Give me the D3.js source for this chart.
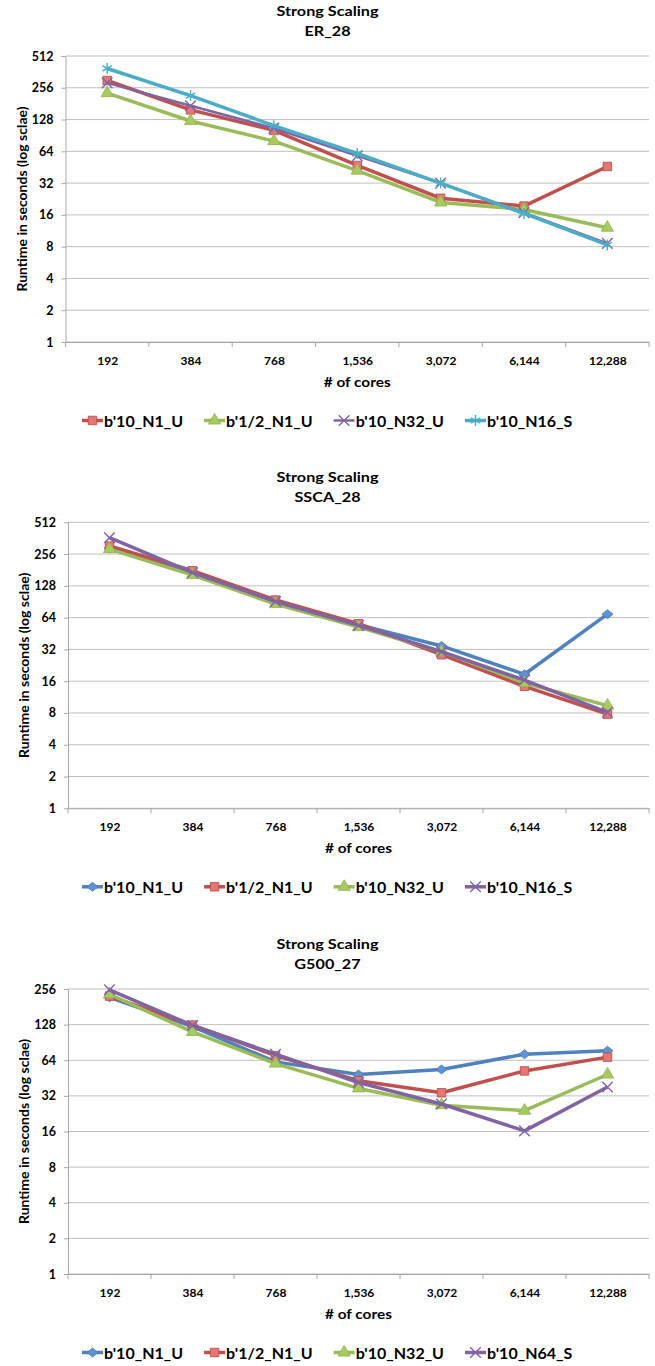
<!DOCTYPE html>
<html>
<head>
<meta charset="utf-8">
<script src="https://cdn.jsdelivr.net/npm/d3@7"></script>
<style>
  body { margin: 0; background: #fff; }
  text { font-family: Lato, "Open Sans", sans-serif; fill: #000; }
</style>
</head>
<body>
<svg id="chart" width="655" height="1366"></svg>
<script>
// categories shared by all three panels
const cores = ["192", "384", "768", "1,536", "3,072", "6,144", "12,288"];
const ticks512 = [1, 2, 4, 8, 16, 32, 64, 128, 256, 512];
const ticks256 = [1, 2, 4, 8, 16, 32, 64, 128, 256];

// ER_28 runtimes (seconds)
const erNames = ["b'10_N1_U", "b'1/2_N1_U", "b'10_N32_U", "b'10_N16_S"];
const er_N1_U    = [300, 158, 101, 47, 23, 19.4, 46];
const er_half_N1 = [228, 124, 80, 42, 21, 18, 12.1];
const er_N32_U   = [285, 173, 106, 58, 32, 16.8, 8.6];
const er_N16_S   = [390, 216, 112, 61, 32, 16.5, 8.3];

// SSCA_28 runtimes
const sscaNames = ["b'10_N1_U", "b'1/2_N1_U", "b'10_N32_U", "b'10_N16_S"];
const ssca_N1_U    = [290, 175, 91, 55, 34.5, 18.6, 69];
const ssca_half_N1 = [305, 178, 94, 56, 28.5, 14.3, 7.8];
const ssca_N32_U   = [285, 162, 86, 52, 30.5, 15.4, 9.4];
const ssca_N16_S   = [366, 171, 91, 54, 30.5, 16.4, 8.1];

// G500_27 runtimes
const gNames = ["b'10_N1_U", "b'1/2_N1_U", "b'10_N32_U", "b'10_N64_S"];
const g_N1_U    = [218, 123, 62, 48.5, 53.5, 72, 77];
const g_half_N1 = [223, 127, 70, 43, 34, 52, 68];
const g_N32_U   = [231, 111, 60, 37, 26.7, 24, 48.5];
const g_N64_S   = [252, 126, 72, 41.5, 27.3, 16.2, 38];

// excel's diamond is a square on its corner, a bit wider than tall
const symbolWideDiamond = {
  draw(context, size) {
    const r = Math.sqrt(size / 2);
    context.moveTo(0, -r * 0.9);
    context.lineTo(r * 1.1, 0);
    context.lineTo(0, r * 0.9);
    context.lineTo(-r * 1.1, 0);
    context.closePath();
  },
};

// office-2007 style series looks: line colour, marker symbol, marker fill
const styles = {
  blue:   { color: "#4F81BD", symbol: symbolWideDiamond, fill: "#5E93D6", size: 50 },
  red:    { color: "#C0504D", symbol: d3.symbolSquare,   fill: "#E57673", size: 72 },
  green:  { color: "#9BBB59", symbol: d3.symbolTriangle, fill: "#A9CB5E", size: 65 },
  purple: { color: "#8064A2", symbol: d3.symbolTimes,    fill: "none",    size: 75 },
  cyan:   { color: "#4BACC6", symbol: d3.symbolAsterisk, fill: "none",    size: 85 },
};

const svg = d3.select("#chart");

// the source picture is stretched sideways, so some text gets a horizontal scale
function wideText(parent, x, y, sx, size, str) {
  return parent.append("text")
    .attr("transform", `translate(${x},${y}) scale(${sx},1)`)
    .attr("text-anchor", "middle").attr("font-size", size).attr("font-weight", "bold")
    .text(str);
}

function markerStroke(st) {
  return st.fill === "none" ? st.color : d3.color(st.color).darker(0.2);
}

function drawChart(cfg) {
  const g = svg.append("g");
  const x = d3.scalePoint().domain(cores).range([cfg.left, cfg.right]).padding(0.5);
  const xb = d3.scaleBand().domain(cores).range([cfg.left, cfg.right]);
  const y = d3.scaleLog().base(2).domain([1, d3.max(cfg.ticks)]).range([cfg.bottom, cfg.top]);
  const mid = (cfg.left + cfg.right) / 2;

  // titles
  wideText(g, 327.5, cfg.top - 40.5, 1.2, 13.5, "Strong Scaling");
  wideText(g, 327.5, cfg.top - 20.5, 1.2, 13.5, cfg.subtitle);

  // horizontal gridlines
  g.append("g").selectAll("line")
    .data(cfg.ticks)
    .join("line")
    .attr("x1", cfg.left).attr("x2", cfg.right)
    .attr("y1", (d) => y(d)).attr("y2", (d) => y(d))
    .attr("stroke", "#bfbfbf").attr("stroke-width", 1);

  // y axis
  const yAxis = g.append("g")
    .attr("transform", `translate(${cfg.left},0)`)
    .call(d3.axisLeft(y).tickValues(cfg.ticks).tickFormat(d3.format("d"))
      .tickSize(4).tickSizeOuter(0).tickPadding(8));
  yAxis.selectAll("path,line").attr("stroke", "#a6a6a6");
  yAxis.selectAll("text").attr("font-size", 12.5).attr("font-weight", "bold")
    .attr("font-family", "Lato, sans-serif").attr("fill", "#000");

  // x axis: labels at category centres, tick marks at band edges
  const xAxis = g.append("g")
    .attr("transform", `translate(0,${cfg.bottom})`)
    .call(d3.axisBottom(x).tickSize(0).tickPadding(14.5));
  xAxis.select(".domain").attr("stroke", "#a6a6a6");
  xAxis.selectAll("text").attr("font-size", 12).attr("font-weight", "bold")
    .attr("font-family", "Lato, sans-serif").attr("fill", "#000");
  g.append("g").selectAll("line")
    .data(cores.map((c) => xb(c)).concat([cfg.right]))
    .join("line")
    .attr("x1", (d) => d).attr("x2", (d) => d)
    .attr("y1", cfg.bottom).attr("y2", cfg.bottom + 5)
    .attr("stroke", "#a6a6a6");

  // axis titles
  wideText(g, mid, cfg.bottom + 45, 1.1, 14, "# of cores");
  g.append("text")
    .attr("transform", `translate(${cfg.labelX},${(cfg.top + cfg.bottom) / 2}) rotate(-90)`)
    .attr("text-anchor", "middle").attr("dominant-baseline", "central")
    .attr("font-size", 14).attr("font-weight", "bold")
    .text("Runtime in seconds (log sclae)");

  // series lines then markers
  const line = d3.line().x((d, i) => x(cores[i])).y((d) => y(d));
  cfg.series.forEach((s) => {
    const st = styles[s.style];
    const sg = g.append("g");
    sg.append("path").datum(s.values)
      .attr("d", line).attr("fill", "none")
      .attr("stroke", st.color).attr("stroke-width", s.width || 3.5)
      .attr("stroke-linejoin", "round");
    sg.selectAll("path.mk")
      .data(s.values)
      .join("path").attr("class", "mk")
      .attr("transform", (d, i) => `translate(${x(cores[i])},${y(d)})`)
      .attr("d", d3.symbol(st.symbol, st.size))
      .attr("fill", st.fill)
      .attr("stroke", markerStroke(st))
      .attr("stroke-width", st.fill === "none" ? 1.4 : 0.8);
  });

  // legend
  const ly = cfg.bottom + 78.5;
  let lx = 82;
  cfg.series.forEach((s) => {
    const st = styles[s.style];
    const lg = g.append("g");
    lg.append("line").attr("x1", lx).attr("x2", lx + 21).attr("y1", ly).attr("y2", ly)
      .attr("stroke", st.color).attr("stroke-width", s.width || 3.5);
    lg.append("path")
      .attr("transform", `translate(${lx + 10.5},${ly})`)
      .attr("d", d3.symbol(st.symbol, st.size))
      .attr("fill", st.fill)
      .attr("stroke", markerStroke(st))
      .attr("stroke-width", st.fill === "none" ? 1.4 : 0.8);
    const t = lg.append("text").attr("x", lx + 22).attr("y", ly)
      .attr("dominant-baseline", "central").attr("font-size", 16).attr("font-weight", "bold")
      .text(s.name);
    lx += 22 + t.node().getComputedTextLength() + 21;
  });
}

drawChart({
  subtitle: "ER_28", top: 56, bottom: 342, left: 65.5, right: 649, labelX: 21, ticks: ticks512,
  series: [
    { name: erNames[0], values: er_N1_U, style: "red" },
    { name: erNames[1], values: er_half_N1, style: "green" },
    { name: erNames[2], values: er_N32_U, style: "purple", width: 2.5 },
    { name: erNames[3], values: er_N16_S, style: "cyan" },
  ],
});

drawChart({
  subtitle: "SSCA_28", top: 522.3, bottom: 808.3, left: 68, right: 649, labelX: 23, ticks: ticks512,
  series: [
    { name: sscaNames[0], values: ssca_N1_U, style: "blue" },
    { name: sscaNames[1], values: ssca_half_N1, style: "red" },
    { name: sscaNames[2], values: ssca_N32_U, style: "green" },
    { name: sscaNames[3], values: ssca_N16_S, style: "purple" },
  ],
});

drawChart({
  subtitle: "G500_27", top: 989, bottom: 1274, left: 68, right: 649, labelX: 23, ticks: ticks256,
  series: [
    { name: gNames[0], values: g_N1_U, style: "blue" },
    { name: gNames[1], values: g_half_N1, style: "red" },
    { name: gNames[2], values: g_N32_U, style: "green" },
    { name: gNames[3], values: g_N64_S, style: "purple" },
  ],
});
</script>
</body>
</html>
